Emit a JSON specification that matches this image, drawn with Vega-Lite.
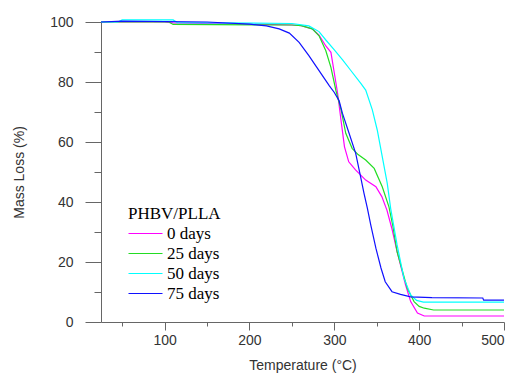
{
 "$schema": "https://vega.github.io/schema/vega-lite/v6.json",
 "width": 403, "height": 300,
 "autosize": {"type": "none"},
 "padding": {"left": 101, "top": 22, "right": 11, "bottom": 52},
 "background": "white",
 "config": {"view": {"stroke": null}, "font": "Liberation Sans"},
 "datasets": {
  "tga": [
   {"T":25,"mass":100,"sample":"0 days"},{"T":100,"mass":100,"sample":"0 days"},{"T":110,"mass":99.7,"sample":"0 days"},{"T":200,"mass":99.3,"sample":"0 days"},{"T":250,"mass":99,"sample":"0 days"},{"T":261,"mass":98.8,"sample":"0 days"},{"T":274,"mass":97.7,"sample":"0 days"},{"T":282,"mass":95.6,"sample":"0 days"},{"T":290,"mass":92,"sample":"0 days"},{"T":296,"mass":89.9,"sample":"0 days"},{"T":300,"mass":83,"sample":"0 days"},{"T":304,"mass":76,"sample":"0 days"},{"T":308,"mass":67,"sample":"0 days"},{"T":312,"mass":58.4,"sample":"0 days"},{"T":317,"mass":53.4,"sample":"0 days"},{"T":325,"mass":50.7,"sample":"0 days"},{"T":337,"mass":47.3,"sample":"0 days"},{"T":349,"mass":45.1,"sample":"0 days"},{"T":356,"mass":41.8,"sample":"0 days"},{"T":362,"mass":37.3,"sample":"0 days"},{"T":368,"mass":31,"sample":"0 days"},{"T":374,"mass":23.5,"sample":"0 days"},{"T":384,"mass":12.3,"sample":"0 days"},{"T":390,"mass":6.8,"sample":"0 days"},{"T":398,"mass":3,"sample":"0 days"},{"T":406,"mass":2,"sample":"0 days"},{"T":500,"mass":2,"sample":"0 days"},
   {"T":25,"mass":100,"sample":"25 days"},{"T":105,"mass":100,"sample":"25 days"},{"T":110,"mass":99.2,"sample":"25 days"},{"T":250,"mass":99,"sample":"25 days"},{"T":261,"mass":98.8,"sample":"25 days"},{"T":274,"mass":97.7,"sample":"25 days"},{"T":282,"mass":95.4,"sample":"25 days"},{"T":290,"mass":90.4,"sample":"25 days"},{"T":296,"mass":84.9,"sample":"25 days"},{"T":302,"mass":77,"sample":"25 days"},{"T":308,"mass":70.7,"sample":"25 days"},{"T":313.5,"mass":62.9,"sample":"25 days"},{"T":321,"mass":57.9,"sample":"25 days"},{"T":328,"mass":55.8,"sample":"25 days"},{"T":337,"mass":54,"sample":"25 days"},{"T":347,"mass":51.2,"sample":"25 days"},{"T":356.5,"mass":45.1,"sample":"25 days"},{"T":364.4,"mass":38.4,"sample":"25 days"},{"T":369,"mass":32,"sample":"25 days"},{"T":374,"mass":23.4,"sample":"25 days"},{"T":386,"mass":11.2,"sample":"25 days"},{"T":394,"mass":6.8,"sample":"25 days"},{"T":400,"mass":5.2,"sample":"25 days"},{"T":406,"mass":4.6,"sample":"25 days"},{"T":417,"mass":4,"sample":"25 days"},{"T":500,"mass":4,"sample":"25 days"},
   {"T":25,"mass":100,"sample":"50 days"},{"T":45,"mass":100,"sample":"50 days"},{"T":50,"mass":100.7,"sample":"50 days"},{"T":110,"mass":100.7,"sample":"50 days"},{"T":115,"mass":99.8,"sample":"50 days"},{"T":250,"mass":99.5,"sample":"50 days"},{"T":270,"mass":98.7,"sample":"50 days"},{"T":282,"mass":96.8,"sample":"50 days"},{"T":290,"mass":94,"sample":"50 days"},{"T":300,"mass":90.7,"sample":"50 days"},{"T":310,"mass":87.3,"sample":"50 days"},{"T":319,"mass":84,"sample":"50 days"},{"T":331,"mass":79.6,"sample":"50 days"},{"T":337,"mass":77.3,"sample":"50 days"},{"T":344.8,"mass":70.7,"sample":"50 days"},{"T":350.6,"mass":64,"sample":"50 days"},{"T":356.5,"mass":55.1,"sample":"50 days"},{"T":362.4,"mass":46.2,"sample":"50 days"},{"T":366.4,"mass":37.9,"sample":"50 days"},{"T":374,"mass":25.7,"sample":"50 days"},{"T":382,"mass":14.6,"sample":"50 days"},{"T":390,"mass":9,"sample":"50 days"},{"T":397,"mass":7.2,"sample":"50 days"},{"T":405,"mass":6.6,"sample":"50 days"},{"T":500,"mass":6.6,"sample":"50 days"},
   {"T":25,"mass":100,"sample":"75 days"},{"T":50,"mass":100.3,"sample":"75 days"},{"T":150,"mass":100,"sample":"75 days"},{"T":200,"mass":99.3,"sample":"75 days"},{"T":220,"mass":98.7,"sample":"75 days"},{"T":235,"mass":97.7,"sample":"75 days"},{"T":247,"mass":96.3,"sample":"75 days"},{"T":258.5,"mass":93.2,"sample":"75 days"},{"T":270,"mass":88.8,"sample":"75 days"},{"T":282,"mass":83.8,"sample":"75 days"},{"T":294,"mass":78.8,"sample":"75 days"},{"T":300,"mass":76.5,"sample":"75 days"},{"T":305.6,"mass":73.8,"sample":"75 days"},{"T":309.5,"mass":69.6,"sample":"75 days"},{"T":317.4,"mass":62.9,"sample":"75 days"},{"T":325.2,"mass":56.2,"sample":"75 days"},{"T":331,"mass":48.4,"sample":"75 days"},{"T":335,"mass":42.9,"sample":"75 days"},{"T":339,"mass":37.9,"sample":"75 days"},{"T":343,"mass":32.3,"sample":"75 days"},{"T":349,"mass":24.6,"sample":"75 days"},{"T":355,"mass":18,"sample":"75 days"},{"T":360,"mass":13.4,"sample":"75 days"},{"T":368,"mass":10.1,"sample":"75 days"},{"T":378,"mass":9.2,"sample":"75 days"},{"T":390,"mass":8.4,"sample":"75 days"},{"T":415,"mass":8.1,"sample":"75 days"},{"T":475,"mass":8,"sample":"75 days"},{"T":476,"mass":7.3,"sample":"75 days"},{"T":500,"mass":7.3,"sample":"75 days"}
  ]
 },
 "data": {"name": "tga"},
 "layer": [
  {
   "mark": {"type": "line", "strokeWidth": 1.2},
   "encoding": {
    "x": {"field": "T", "type": "quantitative",
     "scale": {"domain": [25, 500], "nice": false, "zero": false},
     "axis": {"orient": "bottom", "values": [100, 200, 300, 400, 500], "tickSize": 8, "grid": false,
      "domainColor": "#666", "tickColor": "#666", "labelFont": "Liberation Sans", "labelFontSize": 14,
      "labelColor": "#333", "labelPadding": 3, "title": "Temperature (°C)", "titleFont": "Liberation Sans",
      "titleFontSize": 14, "titleFontWeight": "normal", "titleColor": "#333", "titlePadding": 11}},
    "y": {"field": "mass", "type": "quantitative",
     "scale": {"domain": [0, 100], "nice": false, "zero": false},
     "axis": {"orient": "left", "values": [0, 20, 40, 60, 80, 100], "tickSize": 16, "grid": false,
      "domainColor": "#666", "tickColor": "#666", "labelFont": "Liberation Sans", "labelFontSize": 14,
      "labelColor": "#333", "labelPadding": 12, "title": "Mass Loss (%)", "titleFont": "Liberation Sans",
      "titleFontSize": 14, "titleFontWeight": "normal", "titleColor": "#333", "titlePadding": 23}},
    "color": {"field": "sample", "type": "nominal",
     "scale": {"domain": ["0 days", "25 days", "50 days", "75 days"], "range": ["#ff00ff", "#22dd22", "#00ffff", "#1010ff"]},
     "legend": {"orient": "none", "legendX": 27, "legendY": 184, "title": "PHBV/PLLA",
      "titleFont": "Liberation Serif", "titleFontSize": 17, "titleFontWeight": "normal", "titleColor": "black",
      "labelFont": "Liberation Serif", "labelFontSize": 17, "labelColor": "black", "labelAlign": "left",
      "symbolType": "M-3.4,0H3.4", "symbolSize": 100, "symbolStrokeWidth": 1.2, "symbolOffset": 9,
      "labelOffset": 13, "rowPadding": 2, "titlePadding": 2}}
   }
  },
  {
   "mark": {"type": "line", "opacity": 0},
   "encoding": {
    "x": {"field": "T", "type": "quantitative",
     "scale": {"domain": [25, 500], "nice": false, "zero": false},
     "axis": {"orient": "bottom", "values": [50, 150, 250, 350, 450], "tickSize": 4, "grid": false,
      "domain": false, "labels": false, "title": null, "tickColor": "#666"}},
    "y": {"field": "mass", "type": "quantitative",
     "scale": {"domain": [0, 100], "nice": false, "zero": false},
     "axis": {"orient": "left", "values": [10, 30, 50, 70, 90], "tickSize": 7, "grid": false,
      "domain": false, "labels": false, "title": null, "tickColor": "#666"}},
    "detail": {"field": "sample"}
   }
  }
 ],
 "resolve": {"axis": {"x": "independent", "y": "independent"}}
}
